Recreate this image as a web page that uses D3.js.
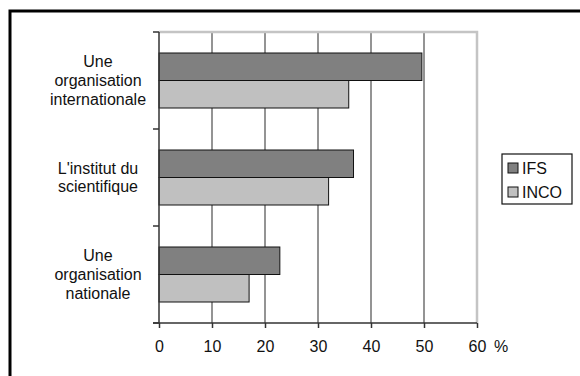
<!DOCTYPE html>
<html>
<head>
<meta charset="utf-8">
<script src="https://cdn.jsdelivr.net/npm/d3@7"></script>
<style>
  body { margin: 0; background: #fff; }
  svg { display: block; font-family: "Liberation Sans", Arial, sans-serif; }
</style>
</head>
<body>
<div id="chart"></div>
<script>
var categories = ['Une organisation internationale', "L'institut du scientifique", 'Une organisation nationale']
var categoryLines = [['Une', 'organisation', 'internationale'], ["L'institut du", 'scientifique'], ['Une', 'organisation', 'nationale']]
var series = ['IFS', 'INCO']
var ifsValues = [49.6, 36.7, 22.8]
var incoValues = [35.8, 32.0, 17.0]
var xTicks = [0, 10, 20, 30, 40, 50, 60]
var colors = {IFS: '#808080', INCO: '#c0c0c0'}

var width = 580, height = 376
var margin = {left: 159, right: 103, top: 32, bottom: 53}

var svg = d3.select('#chart').append('svg')
  .attr('width', width)
  .attr('height', height)

// outer frame (cut off at right and bottom like the original)
svg.append('rect')
  .attr('x', 10).attr('y', 11)
  .attr('width', 700).attr('height', 500)
  .attr('fill', 'none')
  .attr('stroke', '#000')
  .attr('stroke-width', 3)

var x = d3.scaleLinear().domain([0, 60]).range([margin.left, width - margin.right])
var y0 = d3.scaleBand().domain(categories).range([margin.top, height - margin.bottom])
var y1 = d3.scaleBand().domain(series).range([21, y0.bandwidth() - 21])

var data = categories.map(function(c, i) {
  return {cat: c, lines: categoryLines[i], values: [{key: 'IFS', v: ifsValues[i]}, {key: 'INCO', v: incoValues[i]}]}
})

// gridlines
svg.append('g')
  .selectAll('line')
  .data(xTicks.filter(function(d) { return d > 0 && d < 60 }))
  .join('line')
  .attr('x1', function(d) { return x(d) }).attr('x2', function(d) { return x(d) })
  .attr('y1', margin.top).attr('y2', height - margin.bottom)
  .attr('stroke', '#707070')
  .attr('stroke-width', 1.5)

// plot area border top / right
svg.append('path')
  .attr('d', 'M' + x(0) + ',' + margin.top + 'H' + x(60) + 'V' + (height - margin.bottom))
  .attr('fill', 'none')
  .attr('stroke', '#c4c4c4')
  .attr('stroke-width', 2.5)

// bars
var groups = svg.append('g').selectAll('g')
  .data(data)
  .join('g')
  .attr('transform', function(d) { return 'translate(0,' + y0(d.cat) + ')' })

groups.selectAll('rect')
  .data(function(d) { return d.values })
  .join('rect')
  .attr('x', x(0))
  .attr('y', function(d) { return y1(d.key) })
  .attr('width', function(d) { return x(d.v) - x(0) })
  .attr('height', y1.bandwidth())
  .attr('fill', function(d) { return colors[d.key] })
  .attr('stroke', '#111')
  .attr('stroke-width', 1)

// x axis
var xAxis = svg.append('g')
  .attr('transform', 'translate(0,' + (height - margin.bottom) + ')')
  .call(d3.axisBottom(x).tickValues(xTicks).tickSize(5).tickPadding(12.5).tickSizeOuter(0))
xAxis.select('.domain').remove()
xAxis.selectAll('line').attr('stroke', '#333').attr('stroke-width', 1.5)
xAxis.selectAll('text').attr('font-size', 16).attr('fill', '#111').attr('font-family', null)
xAxis.append('line')
  .attr('x1', x(0) - 6).attr('x2', x(60))
  .attr('stroke', '#333').attr('stroke-width', 1.5)

svg.append('text')
  .attr('x', x(60) + 24).attr('y', 352)
  .attr('text-anchor', 'middle')
  .attr('font-size', 16)
  .attr('fill', '#111')
  .text('%')

// y axis
var yBounds = categories.map(function(c) { return y0(c) }).concat([y0.range()[1]])
svg.append('line')
  .attr('x1', x(0)).attr('x2', x(0))
  .attr('y1', margin.top).attr('y2', height - margin.bottom)
  .attr('stroke', '#333').attr('stroke-width', 1.5)
svg.append('g').selectAll('line')
  .data(yBounds)
  .join('line')
  .attr('x1', x(0) - 6).attr('x2', x(0))
  .attr('y1', function(d) { return d }).attr('y2', function(d) { return d })
  .attr('stroke', '#333').attr('stroke-width', 1.5)

// category labels
var lh = 18.7
svg.append('g').selectAll('text')
  .data(data)
  .join('text')
  .attr('text-anchor', 'middle')
  .attr('font-size', 16)
  .attr('fill', '#111')
  .each(function(d) {
    var cy = y0(d.cat) + y0.bandwidth() / 2 + 5.5
    var n = d.lines.length
    d3.select(this).selectAll('tspan')
      .data(d.lines)
      .join('tspan')
      .attr('x', 98)
      .attr('y', function(l, i) { return cy + (i - (n - 1) / 2) * lh })
      .text(function(l) { return l })
  })

// legend
var legend = svg.append('g').attr('transform', 'translate(502,154)')
legend.append('rect')
  .attr('width', 70).attr('height', 50)
  .attr('fill', '#fff')
  .attr('stroke', '#111').attr('stroke-width', 1.2)
var items = legend.selectAll('g.item')
  .data(series)
  .join('g')
  .attr('class', 'item')
  .attr('transform', function(d, i) { return 'translate(0,' + (i * 24) + ')' })
items.append('rect')
  .attr('x', 6).attr('y', 9)
  .attr('width', 10).attr('height', 10)
  .attr('fill', function(d) { return colors[d] })
  .attr('stroke', '#111').attr('stroke-width', 1)
items.append('text')
  .attr('x', 20).attr('y', 20)
  .attr('font-size', 16)
  .attr('fill', '#111')
  .text(function(d) { return d })
</script>
</body>
</html>
